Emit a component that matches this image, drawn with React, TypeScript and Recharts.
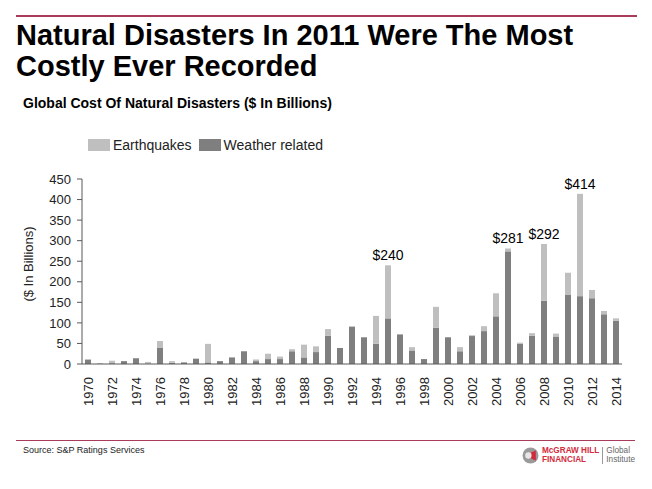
import React from 'react'
import { BarChart, Bar, XAxis, YAxis, Legend, LabelList } from 'recharts'

const YEARS = [
  '1970', '1971', '1972', '1973', '1974', '1975', '1976', '1977', '1978', '1979',
  '1980', '1981', '1982', '1983', '1984', '1985', '1986', '1987', '1988', '1989',
  '1990', '1991', '1992', '1993', '1994', '1995', '1996', '1997', '1998', '1999',
  '2000', '2001', '2002', '2003', '2004', '2005', '2006', '2007', '2008', '2009',
  '2010', '2011', '2012', '2013', '2014',
]

// $ billions
const WEATHER = [
  10, 1, 2, 7, 14, 1, 39, 3, 4, 13,
  4, 7, 16, 31, 7, 12, 12, 31, 16, 29,
  69, 39, 91, 65, 49, 111, 72, 33, 12, 88,
  65, 31, 68, 80, 116, 274, 49, 69, 154, 67,
  169, 165, 160, 121, 105,
]

const EARTHQUAKES = [
  2, 0, 6, 0, 0, 4, 17, 4, 1, 0,
  45, 0, 0, 0, 4, 13, 6, 5, 31, 14,
  16, 0, 0, 0, 68, 129, 0, 8, 0, 51,
  0, 10, 2, 12, 56, 7, 3, 6, 138, 7,
  53, 249, 20, 8, 6,
]

const CALLOUTS: Record<string, string> = {
  '1995': '$240',
  '2005': '$281',
  '2008': '$292',
  '2011': '$414',
}

const Y_TICKS = [0, 50, 100, 150, 200, 250, 300, 350, 400, 450]

const FONT = '"Liberation Sans", Arial, sans-serif'
const RULE = '#a83c5a'
const DARK = '#7f7f7f'
const LIGHT = '#bfbfbf'

const data = YEARS.map((year, i) => ({
  year,
  weather: WEATHER[i],
  quake: EARTHQUAKES[i],
  callout: CALLOUTS[year] ?? '',
}))

function YearTick({ x, y, payload }: any) {
  return (
    <g transform={`translate(${x},${y + 11})`}>
      <text transform="rotate(-90)" textAnchor="end" dy="0.35em" fontSize={13} fill="#222" fontFamily={FONT}>
        {payload.value}
      </text>
    </g>
  )
}

function LegendBox() {
  const items = [
    { name: 'Earthquakes', color: LIGHT },
    { name: 'Weather related', color: DARK },
  ]
  return (
    <div style={{ display: 'flex', alignItems: 'center', fontSize: 14, color: '#222', fontFamily: FONT }}>
      {items.map((it) => (
        <div key={it.name} style={{ display: 'flex', alignItems: 'center', marginRight: 7 }}>
          <span style={{ display: 'inline-block', width: 22, height: 12, background: it.color, marginRight: 3 }} />
          {it.name}
        </div>
      ))}
    </div>
  )
}

function Logo() {
  return (
    <div style={{ position: 'absolute', left: 522, top: 447, display: 'flex', alignItems: 'center', fontFamily: FONT }}>
      <svg width={17} height={17} viewBox="0 0 16 16">
        <circle cx={8} cy={8} r={7.5} fill="#9a9a9a" />
        <path d="M3 8 L13 3 L13 13 Z" fill="#d12c3c" />
        <circle cx={6} cy={8} r={3} fill="#e6e6e6" />
      </svg>
      <div style={{ marginLeft: 3, color: '#d12c3c', fontWeight: 'bold', fontSize: 8.2, lineHeight: '8.5px' }}>
        <div>McGRAW HILL</div>
        <div>FINANCIAL</div>
      </div>
      <div style={{ width: 1, height: 17, background: '#999', margin: '0 3px' }} />
      <div style={{ color: '#666', fontSize: 8.2, lineHeight: '8.5px' }}>
        <div>Global</div>
        <div>Institute</div>
      </div>
    </div>
  )
}

export default function App() {
  return (
    <div style={{ position: 'absolute', left: 0, top: 0, width: 652, height: 489, background: '#fff', fontFamily: FONT }}>
      <div style={{ position: 'absolute', left: 16, top: 15, width: 621, height: 2, background: RULE }} />
      <div style={{ position: 'absolute', left: 16, top: 20, fontSize: 29, fontWeight: 'bold', lineHeight: '31px', color: '#000', whiteSpace: 'nowrap' }}>
        Natural Disasters In 2011 Were The Most
        <br />
        Costly Ever Recorded
      </div>
      <div style={{ position: 'absolute', left: 23, top: 95, fontSize: 14, fontWeight: 'bold', color: '#000', whiteSpace: 'nowrap' }}>
        Global Cost Of Natural Disasters ($ In Billions)
      </div>
      <div
        style={{
          position: 'absolute',
          left: 28,
          top: 264,
          transform: 'translate(-50%, -50%) rotate(-90deg)',
          fontSize: 13,
          color: '#222',
          whiteSpace: 'nowrap',
        }}
      >
        ($ In Billions)
      </div>

      <div style={{ position: 'absolute', left: 0, top: 0 }}>
        <BarChart width={652} height={420} data={data} margin={{ top: 163, right: 30, bottom: 16, left: 52 }} barSize={6}>
          <XAxis
            dataKey="year"
            interval={1}
            tick={<YearTick />}
            tickLine={false}
            tickSize={0}
            axisLine={{ stroke: '#595959' }}
            height={40}
          />
          <YAxis
            domain={[0, 450]}
            ticks={Y_TICKS}
            interval={0}
            width={30}
            tickSize={5}
            tickMargin={6}
            tick={{ fontSize: 13, fill: '#222', fontFamily: FONT }}
            tickLine={{ stroke: '#595959' }}
            axisLine={{ stroke: '#595959' }}
          />
          <Legend content={<LegendBox />} verticalAlign="top" wrapperStyle={{ top: 137, left: 88, width: 'auto' }} />
          <Bar dataKey="weather" name="Weather related" stackId="a" fill={DARK} isAnimationActive={false} />
          <Bar dataKey="quake" name="Earthquakes" stackId="a" fill={LIGHT} isAnimationActive={false}>
            <LabelList dataKey="callout" position="top" offset={5} fontSize={14} fill="#000" fontFamily={FONT} />
          </Bar>
        </BarChart>
      </div>

      <div style={{ position: 'absolute', left: 16, top: 440, width: 619, height: 1, background: RULE }} />
      <div style={{ position: 'absolute', left: 23, top: 445, fontSize: 9, color: '#222' }}>Source: S&amp;P Ratings Services</div>
      <Logo />
    </div>
  )
}
